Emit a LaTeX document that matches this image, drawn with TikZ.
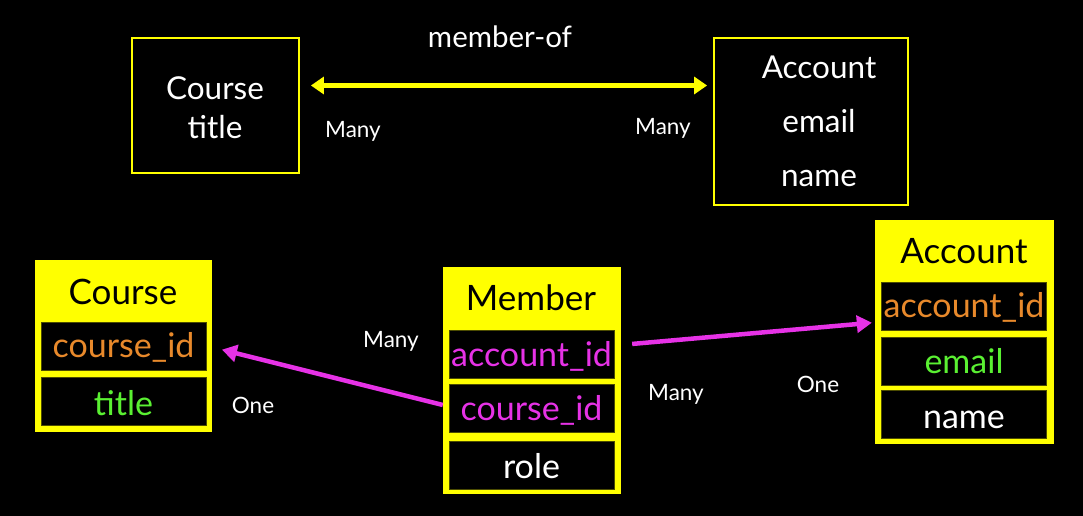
\documentclass[tikz,border=0pt]{standalone}
\usepackage{fontspec}
\setmainfont{Lato}
\usetikzlibrary{arrows.meta,calc}
\definecolor{yel}{RGB}{255,255,0}
\definecolor{orng}{RGB}{232,137,43}
\definecolor{grn}{RGB}{90,240,50}
\definecolor{mag}{RGB}{230,50,230}
\tikzset{
  outline/.style={draw=yel,line width=1.8pt,inner sep=0pt},
  tablebox/.style={fill=yel,draw=yel,inner sep=0pt},
  rowbox/.style={fill=black,draw=black!70!yel,line width=0.6pt,inner sep=0pt,minimum width=165pt,minimum height=48pt},
  big/.style={font=\fontsize{31.5}{34}\selectfont,text=white,inner sep=0pt},
  cell/.style={font=\fontsize{34}{37}\selectfont,inner sep=0pt,anchor=base},
  ttl/.style={font=\fontsize{35}{38}\selectfont,text=black,inner sep=0pt},
  card/.style={font=\fontsize{22.5}{25}\selectfont,text=white,inner sep=0pt},
  rel/.style={mag,line width=4.5pt,-{Triangle[length=15pt,width=17pt]}},
}
\begin{document}
\begin{tikzpicture}[x=1pt,y=-1pt]
\path[fill=black,use as bounding box] (0,0) rectangle (1083,516);
% top conceptual model
\node[outline,minimum width=167pt,minimum height=135pt] (tcourse) at (215.5,105.5) {};
\node[big] (tcoursename) at (215,88) {Course};
\node[big] (tcoursetitle) at (215,127) {title};
\node[outline,minimum width=194pt,minimum height=167pt] (tacct) at (811,121.5) {};
\node[big] (tacctname) at (819,67) {Account};
\node[big] (tacctemail) at (819,121) {email};
\node[big] (tacctnm) at (819,179) {name};
\draw[yel,line width=5pt,{Triangle[length=13pt,width=17pt]}-{Triangle[length=13pt,width=17pt]}]
  ($(tcourse.east)+(11,-20)$) -- ($(tacct.west)+(-6,-36)$);
\node[big,font=\fontsize{29.5}{32}\selectfont] (memberof) at (500,37) {member-of};
\node[card] (tmany1) at (353,131) {Many};
\node[card] (tmany2) at (663,128) {Many};
% Course table
\node[tablebox,minimum width=176pt,minimum height=171pt] (course) at (123,345.5) {};
\node[ttl] (coursettl) at (123,292) {Course};
\node[rowbox] (ccid) at (123.5,346) {};
\node[cell,text=orng] at ($(ccid)+(0,11)$) {course\_id};
\node[rowbox] (ctitle) at (123.5,401) {};
\node[cell,text=grn] at ($(ctitle)+(0,14)$) {title};
% Member table
\node[tablebox,minimum width=177pt,minimum height=226pt] (member) at (531.5,380) {};
\node[ttl] (memberttl) at (531,298) {Member};
\node[rowbox] (maid) at (531.5,354) {};
\node[cell,text=mag] at ($(maid)+(0,12)$) {account\_id};
\node[rowbox] (mcid) at (531.5,408) {};
\node[cell,text=mag] at ($(mcid)+(0,12)$) {course\_id};
\node[rowbox] (mrole) at (531.5,465) {};
\node[cell,text=white] at ($(mrole)+(0,13)$) {role};
% Account table
\node[tablebox,minimum width=178pt,minimum height=223pt] (account) at (964,331.5) {};
\node[ttl] (accountttl) at (964,251) {Account};
\node[rowbox] (aaid) at (964,306.5) {};
\node[cell,text=orng] at ($(aaid)+(0,11)$) {account\_id};
\node[rowbox] (aemail) at (964,361) {};
\node[cell,text=grn] at ($(aemail)+(0,12)$) {email};
\node[rowbox] (aname) at (964,414) {};
\node[cell,text=white] at ($(aname)+(0,14)$) {name};
% relationships
\draw[rel,shorten >=11pt] ($(mcid.west -| member.west)+(0,-3)$) -- ($(ccid.east -| course.east)+(0,1)$);
\draw[rel,shorten <=12pt,shorten >=3pt] ($(maid.east -| member.east)+(0,-9)$) -- ($(aaid.west -| account.west)+(0,16)$);
\node[card] (many1) at (391,341) {Many};
\node[card] (one1) at (253,405) {One};
\node[card] (many2) at (676,394) {Many};
\node[card] (one2) at (818,384) {One};
\end{tikzpicture}
\end{document}
